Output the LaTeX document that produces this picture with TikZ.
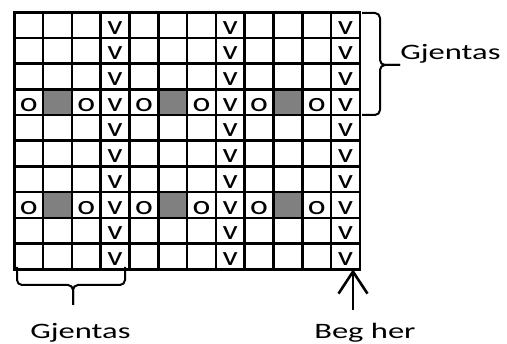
\documentclass[tikz,border=0pt]{standalone}
\usepackage{fontspec}
\newfontfamily\cellfont[FakeStretch=1.25]{Carlito}
\newfontfamily\lblfont[FakeStretch=1.48]{Carlito}
\usetikzlibrary{matrix}
\usetikzlibrary{positioning,calc}
\usetikzlibrary{arrows.meta}

\begin{document}
\begin{tikzpicture}[x=1pt, y=1pt, line width=2.6pt,
    cell/.style={draw, inner sep=0pt, outer sep=0pt, minimum width=28.8pt, minimum height=25.7pt,
        text height=18pt, text depth=0pt, font=\cellfont\fontsize{27}{27}\selectfont},
    dark/.style={fill=gray},
    gbrace/.style={rounded corners=5pt, line width=2pt},
    lbl/.style={font=\lblfont\fontsize{22}{22}\selectfont, inner sep=0pt}]
    \useasboundingbox (0,0) rectangle (507,344);
    \matrix (M)[matrix of nodes, nodes={cell}, nodes in empty cells, column sep=-2.6pt, row sep=-2.6pt,
        inner sep=0pt, outer sep=0pt, anchor=north west] at (13,333)
    {
      & & & v & & & & v & & & & v \\
      & & & v & & & & v & & & & v \\
      & & & v & & & & v & & & & v \\
      o & |[dark]| & o & v & o & |[dark]| & o & v & o & |[dark]| & o & v \\
      & & & v & & & & v & & & & v \\
      & & & v & & & & v & & & & v \\
      & & & v & & & & v & & & & v \\
      o & |[dark]| & o & v & o & |[dark]| & o & v & o & |[dark]| & o & v \\
      & & & v & & & & v & & & & v \\
      & & & v & & & & v & & & & v \\
    };
    % right brace
    \coordinate (rtip) at (400,279);
    \draw[gbrace] (362,331) -- (380,331) -- (380,279) -- (rtip);
    \draw[gbrace] (362,229) -- (380,229) -- (380,279) -- (rtip);
    \node[lbl, anchor=base west] (rlabel) at (399,284) {Gjentas};
    % bottom brace
    \coordinate (btip) at (73,39);
    \draw[gbrace] (17,77) -- (17,59) -- (73,59) -- (btip);
    \draw[gbrace] (125,77) -- (125,59) -- (73,59) -- (btip);
    \node[lbl, anchor=base west] (blabel) at (29,5) {Gjentas};
    % start arrow
    \node[lbl, anchor=base west] (start) at (313,5) {Beg her};
    \coordinate (tail) at (353,34);
    \draw[-{Straight Barb[length=22pt, width=29pt]}] (tail) -- (tail |- M-10-12.south);
\end{tikzpicture}
\end{document}
